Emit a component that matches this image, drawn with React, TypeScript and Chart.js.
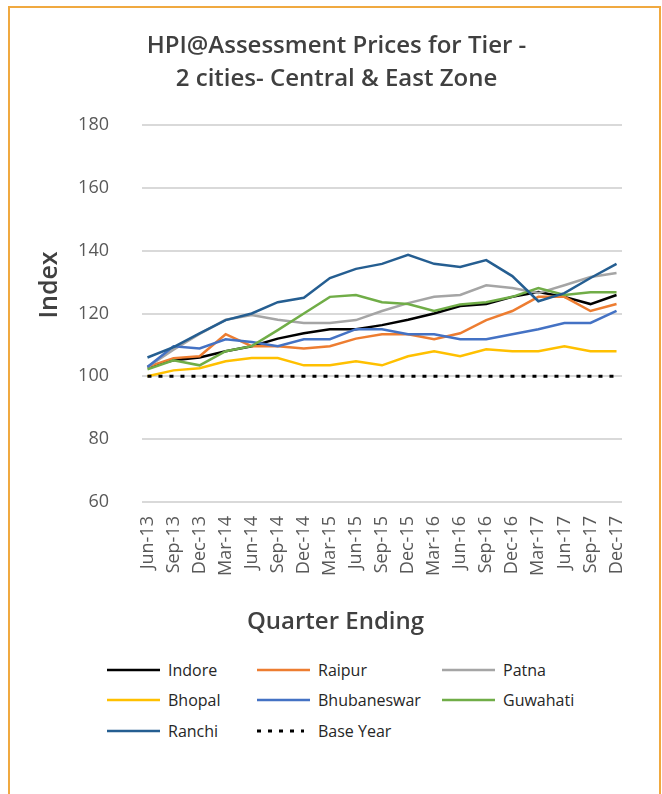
import { useEffect, useRef } from "react";
import { Chart, registerables } from "chart.js";

Chart.register(...registerables);

const quarters = [
  "Jun-13", "Sep-13", "Dec-13", "Mar-14", "Jun-14", "Sep-14", "Dec-14", "Mar-15", "Jun-15", "Sep-15",
  "Dec-15", "Mar-16", "Jun-16", "Sep-16", "Dec-16", "Mar-17", "Jun-17", "Sep-17", "Dec-17",
];

const indore = [103, 105.1, 106, 108, 109.6, 112, 113.7, 115, 115, 116.3, 118, 120, 122.4, 123, 125.3, 126.8, 125.3, 123, 125.9];
const raipur = [103, 105.8, 106.4, 113.4, 109.6, 109.6, 108.9, 109.6, 112, 113.4, 113.4, 111.8, 113.7, 117.9, 120.8, 125.3, 125.3, 120.8, 123];
const patna = [103, 108.5, 113.5, 118, 119.5, 118, 117, 117, 117.9, 120.8, 123.3, 125.3, 125.9, 129, 128.1, 126.5, 129, 131.6, 132.9];
const bhopal = [100, 101.9, 102.6, 104.8, 105.8, 105.8, 103.5, 103.5, 104.8, 103.5, 106.4, 108, 106.4, 108.6, 108, 108, 109.6, 108, 108];
const bhubaneswar = [103, 109.6, 108.9, 111.8, 110.9, 109.6, 111.8, 111.8, 115, 115, 113.4, 113.4, 111.8, 111.8, 113.4, 115, 117, 117, 120.8];
const guwahati = [102.2, 105.1, 103.5, 108, 109.6, 114.7, 120, 125.3, 125.9, 123.6, 123, 120.8, 122.9, 123.6, 125.3, 128.1, 125.9, 126.8, 126.8];
const ranchi = [106, 109.3, 113.7, 117.9, 120, 123.6, 125, 131.3, 134.2, 135.8, 138.7, 135.8, 134.8, 137, 131.9, 123.9, 126.5, 131.3, 135.8];
const baseYear = [100, 100, 100, 100, 100, 100, 100, 100, 100, 100, 100, 100, 100, 100, 100, 100, 100, 100, 100];

const seriesNames = ["Indore", "Raipur", "Patna", "Bhopal", "Bhubaneswar", "Guwahati", "Ranchi", "Base Year"];
const seriesValues = [indore, raipur, patna, bhopal, bhubaneswar, guwahati, ranchi, baseYear];
const seriesColors = ["#000000", "#ED7D31", "#A5A5A5", "#FFC000", "#4472C4", "#70AD47", "#255E91", "#000000"];

const yTicks = [60, 80, 100, 120, 140, 160, 180];

const chartTitle = ["HPI@Assessment Prices for Tier -", "2 cities- Central & East Zone"];
const xTitle = "Quarter Ending";
const yTitle = "Index";

const FONT = "'Open Sans', 'DejaVu Sans', sans-serif";

const titlesPlugin = {
  id: "chartTitles",
  afterDraw(chart: any) {
    const { ctx, chartArea } = chart;
    const cx = chart.width / 2 + 2;
    ctx.save();
    ctx.fillStyle = "#404040";
    ctx.textAlign = "center";
    ctx.textBaseline = "middle";
    ctx.font = `600 24px ${FONT}`;
    ctx.fillText(chartTitle[0], cx, 38);
    ctx.fillText(chartTitle[1], cx, 71);
    ctx.font = `600 24px ${FONT}`;
    ctx.fillText(xTitle, cx - 1, chartArea.bottom + 120);
    ctx.translate(chartArea.left - 92, chartArea.top + 160);
    ctx.rotate(-Math.PI / 2);
    ctx.font = `600 25px ${FONT}`;
    ctx.fillText(yTitle, 0, 0);
    ctx.restore();
  },
};

export default function App() {
  const canvasRef = useRef<HTMLCanvasElement | null>(null);

  useEffect(() => {
    document.documentElement.style.overflow = "hidden";
    const canvas = canvasRef.current;
    if (!canvas) return;
    const n = seriesNames.length;
    const chart = new Chart(canvas, {
      type: "line",
      data: {
        datasets: seriesNames.map((name, i) => ({
          label: name,
          data: seriesValues[i].map((v, k) => ({ x: k, y: v })),
          borderColor: seriesColors[i],
          backgroundColor: seriesColors[i],
          borderWidth: i === n - 1 ? 3 : 2.5,
          borderDash: i === n - 1 ? [4, 7] : [],
          borderCapStyle: "butt",
          pointRadius: 0,
          tension: 0,
          fill: false,
          order: n - i,
        })),
      },
      plugins: [titlesPlugin],
      options: {
        responsive: false,
        animation: false,
        devicePixelRatio: 1,
        layout: { padding: { left: 0, right: 37, top: 117, bottom: 0 } },
        plugins: {
          legend: { display: false },
          tooltip: { enabled: false },
          title: { display: false },
        },
        scales: {
          x: {
            type: "linear",
            min: -0.21,
            max: 18.21,
            grid: { display: false, drawTicks: false },
            border: { display: false },
            afterFit: (s: any) => {
              s.height = 146;
            },
            ticks: {
              stepSize: 1,
              autoSkip: false,
              includeBounds: false,
              maxRotation: 90,
              minRotation: 90,
              padding: 14,
              color: "#595959",
              font: { family: FONT, size: 18 },
              callback: (v: any) => (Number.isInteger(v) && quarters[v] !== undefined ? quarters[v] : ""),
            },
          },
          y: {
            min: yTicks[0],
            max: yTicks[yTicks.length - 1],
            afterFit: (s: any) => {
              s.width = 132;
            },
            afterBuildTicks: (s: any) => {
              s.ticks = yTicks.map((v) => ({ value: v }));
            },
            grid: { color: "#D9D9D9", lineWidth: 2, drawTicks: false },
            border: { display: false },
            ticks: {
              padding: 33,
              color: "#595959",
              font: { family: FONT, size: 18 },
            },
          },
        },
      },
    });
    return () => chart.destroy();
  }, []);

  const legendCols = [97, 247, 432];
  const legendRows = [662, 692, 723];

  return (
    <div
      style={{
        position: "absolute",
        left: 8,
        top: 6,
        width: 649,
        height: 800,
        border: "2px solid #F0A940",
        background: "#fff",
        fontFamily: FONT,
      }}
    >
      <canvas ref={canvasRef} width={649} height={640} style={{ display: "block", width: 649, height: 640 }} />
      {seriesNames.map((name, i) => {
        const col = i % 3;
        const row = Math.floor(i / 3);
        const left = legendCols[col];
        const cy = legendRows[row];
        const isDash = i === seriesNames.length - 1;
        return (
          <div key={name}>
            <svg
              width={53}
              height={6}
              style={{ position: "absolute", left, top: cy - 3, overflow: "visible" }}
            >
              <line
                x1={0}
                y1={3}
                x2={isDash ? 47 : 53}
                y2={3}
                stroke={seriesColors[i]}
                strokeWidth={isDash ? 3 : 2.5}
                strokeDasharray={isDash ? "4 7" : undefined}
              />
            </svg>
            <div
              style={{
                position: "absolute",
                left: left + 61,
                top: cy - 12,
                height: 24,
                lineHeight: "24px",
                fontSize: 16,
                color: "#262626",
                whiteSpace: "nowrap",
              }}
            >
              {name}
            </div>
          </div>
        );
      })}
    </div>
  );
}
